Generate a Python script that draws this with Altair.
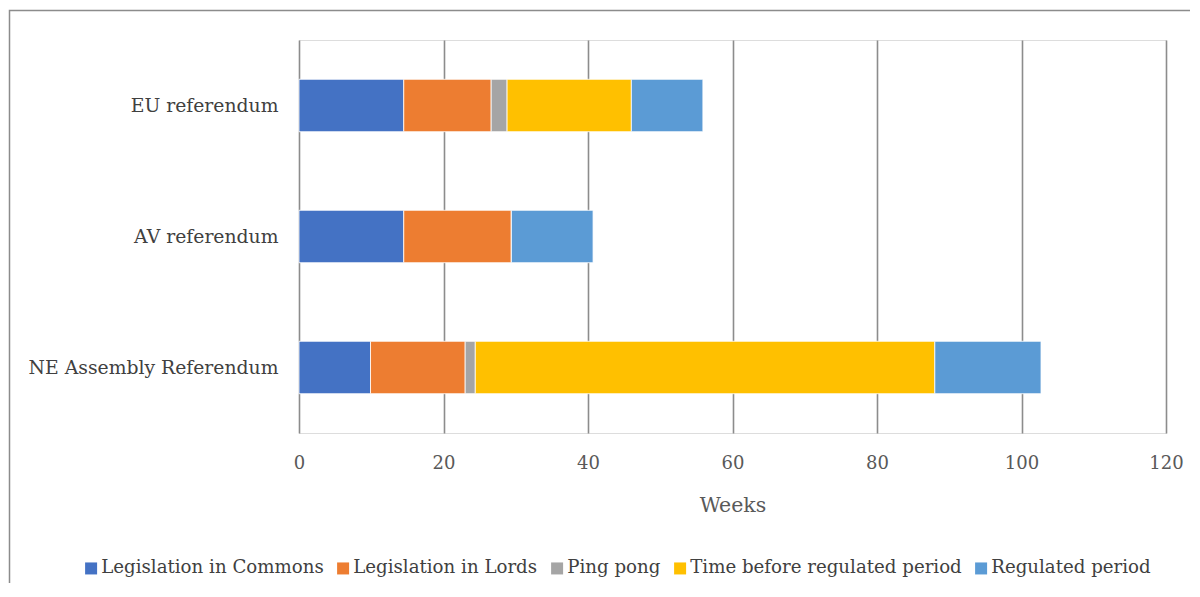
import altair as alt
import pandas as pd

categories = ["EU referendum", "AV referendum", "NE Assembly Referendum"]
series = ["Legislation in Commons", "Legislation in Lords", "Ping pong",
          "Time before regulated period", "Regulated period"]
colors = ["#4472C4", "#ED7D31", "#A5A5A5", "#FFC000", "#5B9BD5"]
commons = [14.5, 14.5, 9.9]
lords = [12.1, 14.9, 13.1]
ping_pong = [2.2, 0.0, 1.4]
time_before = [17.2, 0.0, 63.6]
regulated = [9.9, 11.3, 14.7]
x_ticks = [0, 20, 40, 60, 80, 100, 120]

values = [commons, lords, ping_pong, time_before, regulated]
rows = []
for si, (s, vals) in enumerate(zip(series, values)):
    for c, v in zip(categories, vals):
        rows.append({"category": c, "series": s, "weeks": v, "order": si})
df = pd.DataFrame(rows)

FONT = "DejaVu Serif"

bars = alt.Chart(df).mark_bar(stroke="white", strokeWidth=0.8).encode(
    y=alt.Y("category:N", sort=categories,
            scale=alt.Scale(paddingInner=0.6, paddingOuter=0.3),
            axis=alt.Axis(title=None, domain=False, ticks=False, tickSize=0,
                          labelPadding=21, labelFontSize=18.8, labelFont=FONT,
                          labelColor="#404040", grid=False, labelLimit=400)),
    x=alt.X("weeks:Q", stack="zero",
            scale=alt.Scale(domain=[0, 120], nice=False),
            axis=alt.Axis(title="Weeks", values=x_ticks, domain=False, ticks=False,
                          tickSize=0, labelPadding=21, labelFontSize=18, labelFont=FONT,
                          labelFlush=False,
                          labelColor="#595959", titleFont=FONT, titleFontSize=20.5,
                          titleFontWeight="normal", titleColor="#595959",
                          titleY=78, titleBaseline="alphabetic",
                          grid=True, gridColor="#8c8c8c", gridWidth=1.6)),
    color=alt.Color("series:N", sort=series,
                    scale=alt.Scale(domain=series, range=colors),
                    legend=alt.Legend(title=None, orient="none", direction="horizontal",
                                      legendX=-217, legendY=519, padding=0,
                                      symbolType="square", symbolSize=144,
                                      symbolStrokeWidth=0, labelOffset=1,
                                      columnPadding=10, labelFont=FONT,
                                      labelFontSize=18.2, labelColor="#404040",
                                      labelLimit=400)),
    order=alt.Order("order:Q"),
)

border_df = pd.DataFrame({"b": [0]})
border = alt.Chart(border_df).mark_rect(fill="white", fillOpacity=0,
                                         stroke="#8c8c8c", strokeWidth=1.5).encode(
    x=alt.value(-289.5), x2=alt.value(1000),
    y=alt.value(-29.5), y2=alt.value(700),
)

chart = alt.layer(border, bars).properties(
    width=867, height=393,
    padding={"left": 291, "top": 32, "right": 24, "bottom": 150},
    autosize=alt.AutoSizeParams(type="none"),
).configure_view(stroke=None).configure(background="white", font=FONT)

chart.save("out.html", embed_options={"renderer": "svg", "actions": False})
